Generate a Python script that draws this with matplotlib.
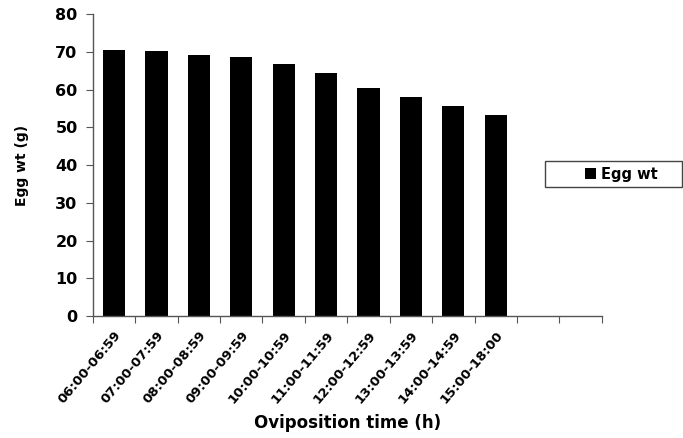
import matplotlib
matplotlib.use("Agg")
import matplotlib.pyplot as plt
from matplotlib.patches import Rectangle
import numpy as np

categories = ["06:00-06:59", "07:00-07:59", "08:00-08:59", "09:00-09:59", "10:00-10:59",
              "11:00-11:59", "12:00-12:59", "13:00-13:59", "14:00-14:59", "15:00-18:00"]
egg_wt = [70.6, 70.1, 69.1, 68.5, 66.8, 64.3, 60.3, 58.0, 55.6, 53.2]
n_slots = 12
y_ticks = [0, 10, 20, 30, 40, 50, 60, 70, 80]

plt.rcParams['font.family'] = ['DejaVu Sans']
plt.rcParams['font.weight'] = 'bold'

fig = plt.figure(figsize=(6.83, 4.38), dpi=100)
ax = fig.add_axes([0.136, 0.2785, 0.745, 0.6895])

x = np.arange(len(categories)) + 0.5
ax.bar(x, egg_wt, width=0.52, color='black', label='Egg wt')

ax.set_xlim(0, n_slots)
ax.set_ylim(0, 80)
ax.set_yticks(y_ticks)
ax.set_yticklabels([str(v) for v in y_ticks], fontsize=11.5, fontweight='bold')

ax.set_xticks(np.arange(n_slots + 1))
ax.set_xticklabels([])
ax.set_xticks(x, minor=True)
ax.set_xticklabels(categories, minor=True, rotation=50, ha='right', va='top',
                   rotation_mode='anchor', fontsize=9.5, fontweight='bold')
ax.tick_params(axis='x', which='minor', length=0, pad=9)
ax.tick_params(axis='x', which='major', length=5, direction='out', color='#555555')
ax.tick_params(axis='y', length=5, direction='out', color='#555555', pad=6)

for s in ['top', 'right']:
    ax.spines[s].set_visible(False)
for s in ['left', 'bottom']:
    ax.spines[s].set_color('#555555')
    ax.spines[s].set_linewidth(1.0)

ax.set_ylabel('Egg wt (g)', fontsize=10, fontweight='bold')
ax.yaxis.set_label_coords((22 - 93) / 509, 0.5)
ax.set_xlabel('Oviposition time (h)', fontsize=12, fontweight='bold')
ax.xaxis.set_label_coords(0.5, (316 - 423) / 302)
ax.xaxis.label.set_va('center')
ax.yaxis.label.set_va('center')

fig.patches.append(Rectangle((545 / 683, 1 - 187 / 438), 137 / 683, 26 / 438,
                             transform=fig.transFigure, facecolor='white',
                             edgecolor='#444444', linewidth=1.0))
fig.legend(loc='center', bbox_to_anchor=(621 / 683, 1 - 174 / 438), frameon=False,
           prop={'size': 10.5, 'weight': 'bold'}, handlelength=0.8, handleheight=0.8,
           handletextpad=0.3, borderpad=0)

fig.savefig('out.png', dpi=100)
